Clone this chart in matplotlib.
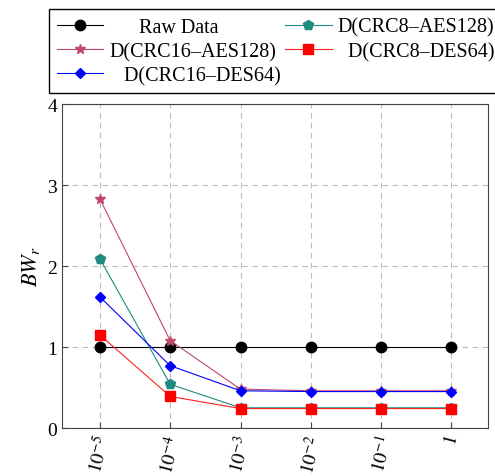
import numpy as np
import matplotlib.pyplot as plt

plt.rcParams['font.family'] = ['Liberation Serif', 'DejaVu Serif']
plt.rcParams['mathtext.fontset'] = 'stix'

x_labels = [r'$10^{-5}$', r'$10^{-4}$', r'$10^{-3}$', r'$10^{-2}$', r'$10^{-1}$', r'$1$']
raw = [1, 1, 1, 1, 1, 1]
crc8_aes128 = [2.09, 0.54, 0.25, 0.25, 0.25, 0.25]
crc16_aes128 = [2.83, 1.08, 0.48, 0.46, 0.46, 0.46]
crc8_des64 = [1.15, 0.39, 0.24, 0.24, 0.24, 0.24]
crc16_des64 = [1.62, 0.77, 0.46, 0.45, 0.45, 0.45]

x = np.arange(len(x_labels))

fig = plt.figure(figsize=(4.95, 4.77), dpi=100)
ax = fig.add_axes([0.125, 0.1006, 0.861, 0.679])

h_raw, = ax.plot(x, raw, color='black', marker='o', ms=7.5, lw=0.8, label='Raw Data')
h_c8a, = ax.plot(x, crc8_aes128, color='#1f8a80', marker='p', ms=7.5, lw=0.8, label='D(CRC8–AES128)')
h_c16a, = ax.plot(x, crc16_aes128, color='#c04868', marker='*', ms=7, lw=0.8, label='D(CRC16–AES128)')
h_c8d, = ax.plot(x, crc8_des64, color='#ff2020', marker='s', ms=7.5, mfc='red', mec='red', lw=0.8, label='D(CRC8–DES64)')
h_c16d, = ax.plot(x, crc16_des64, color='blue', marker='D', ms=5, lw=0.8, label='D(CRC16–DES64)')

ax.set_xlim(-0.54, 5.52)
ax.set_ylim(0, 4)
ax.set_yticks([0, 1, 2, 3, 4])
ax.set_xticks(x)
ax.set_xticklabels(x_labels, rotation=75, fontsize=14)
ax.tick_params(axis='y', labelsize=14)
ax.tick_params(direction='in', length=4, color='#444444')
ax.grid(True, linestyle=(0, (5, 4)), color='#bbbbbb', lw=0.8)
ax.set_axisbelow(True)
for s in ax.spines.values():
    s.set_color('#444444')
ax.set_ylabel(r'$BW_r$', fontsize=16)

handles = [h_raw, h_c16a, h_c16d, h_c8a, h_c8d]
labels = ['      Raw Data', 'D(CRC16–AES128)', '   D(CRC16–DES64)', 'D(CRC8–AES128)', '  D(CRC8–DES64)']
fig.legend(handles, labels,
           ncol=2, loc='upper left', bbox_to_anchor=(0.099, 0.978),
           fontsize=14.5, frameon=True, fancybox=False, edgecolor='black',
           framealpha=1, borderaxespad=0, handlelength=2.3, columnspacing=0.2,
           labelspacing=0.25, handletextpad=0.3, borderpad=0.4)

fig.savefig('out.png', dpi=100)
